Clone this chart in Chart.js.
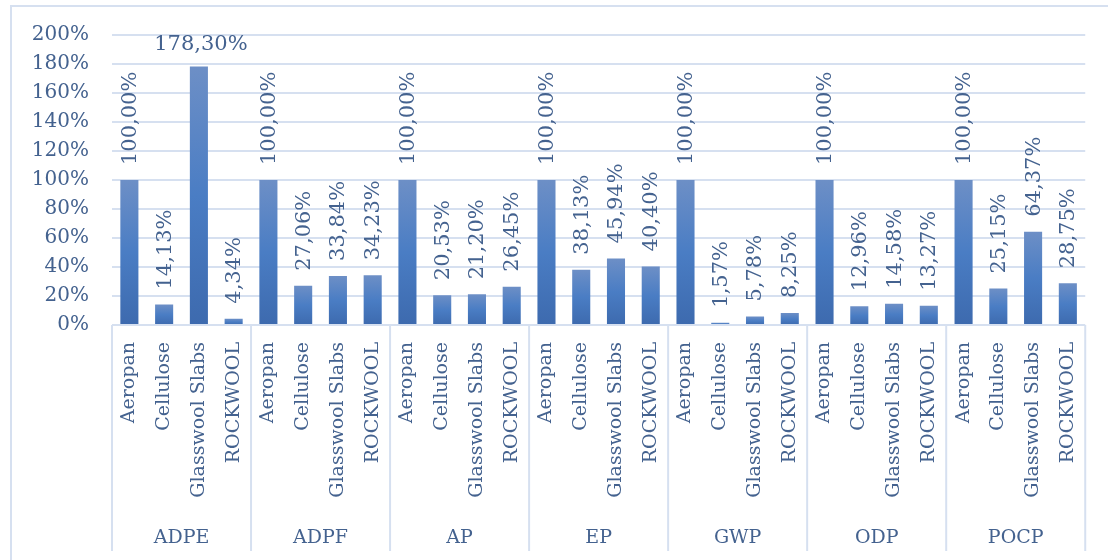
<!DOCTYPE html>
<html>
<head>
<meta charset="utf-8">
<script src="https://cdn.jsdelivr.net/npm/chart.js@4/dist/chart.umd.min.js"></script>
<style>
  html, body { margin: 0; padding: 0; background: #fff; overflow: hidden; }
  #wrap { width: 1108px; height: 560px; }
  canvas { display: block; }
</style>
</head>
<body>
<div id="wrap"><canvas id="grafico" width="1108" height="560"></canvas></div>
<script>
/* dados */
const grupos = ["ADPE", "ADPF", "AP", "EP", "GWP", "ODP", "POCP"];
const materiais = ["Aeropan", "Cellulose", "Glasswool Slabs", "ROCKWOOL"];

const adpe = [100, 14.13, 178.30, 4.34];
const adpf = [100, 27.06, 33.84, 34.23];
const ap   = [100, 20.53, 21.20, 26.45];
const ep   = [100, 38.13, 45.94, 40.40];
const gwp  = [100, 1.57, 5.78, 8.25];
const odp  = [100, 12.96, 14.58, 13.27];
const pocp = [100, 25.15, 64.37, 28.75];

const yTicks = [0, 20, 40, 60, 80, 100, 120, 140, 160, 180, 200];

const corTexto = "#44628F";
const corGrade = "#D6E0F0";
const fonte = "'DejaVu Serif', serif";

/* monta rótulos e valores planos */
const porGrupo = [adpe, adpf, ap, ep, gwp, odp, pocp];
const rotulos = [];
const valores = [];
porGrupo.forEach(vals => {
  vals.forEach((v, i) => {
    rotulos.push(materiais[i]);
    valores.push(v);
  });
});

function fmt(v) {
  return v.toFixed(2).replace(".", ",") + "%";
}

/* gradiente de cada barra */
function corBarra(ctx) {
  const chart = ctx.chart;
  if (!chart.chartArea || ctx.type !== "data") return "#4A7CC0";
  const y = chart.scales.y;
  const topo = y.getPixelForValue(ctx.raw);
  const base = y.getPixelForValue(0);
  if (!isFinite(topo) || base - topo < 1) return "#4A7CC0";
  const g = chart.ctx.createLinearGradient(0, topo, 0, base);
  g.addColorStop(0, "#6D8FC6");
  g.addColorStop(0.5, "#4A7DC4");
  g.addColorStop(1, "#3D6AAE");
  return g;
}

/* =========================
   MOLDURA, SEPARADORES E GRUPOS
========================= */
const pluginEixo = {
  id: "pluginEixo",
  beforeDraw(chart) {
    const c = chart.ctx;
    c.save();
    c.strokeStyle = corGrade;
    c.lineWidth = 2;
    c.strokeRect(11, 6, 1200, 700);
    c.restore();
  },
  afterDraw(chart) {
    const c = chart.ctx;
    const area = chart.chartArea;
    const larg = (area.right - area.left) / grupos.length;
    c.save();
    c.strokeStyle = corGrade;
    c.lineWidth = 2;
    for (let i = 0; i <= grupos.length; i++) {
      const x = area.left + i * larg;
      c.beginPath();
      c.moveTo(x, area.bottom);
      c.lineTo(x, 551);
      c.stroke();
    }
    c.fillStyle = corTexto;
    c.font = "19px " + fonte;
    c.textAlign = "center";
    c.textBaseline = "middle";
    grupos.forEach((g, i) => {
      c.fillText(g, area.left + (i + 0.5) * larg, 538);
    });
    c.restore();
  }
};

/* =========================
   RÓTULOS DE DADOS
========================= */
const pluginRotulos = {
  id: "pluginRotulos",
  afterDatasetsDraw(chart) {
    const c = chart.ctx;
    const meta = chart.getDatasetMeta(0);
    c.save();
    c.fillStyle = corTexto;
    c.font = "21px " + fonte;
    meta.data.forEach((bar, i) => {
      const v = valores[i];
      if (v > 150) {
        c.textAlign = "center";
        c.textBaseline = "middle";
        c.fillText(fmt(v), bar.x + 2, bar.y - 22);
      } else {
        c.save();
        c.translate(bar.x + 1, bar.y - 15);
        c.rotate(-Math.PI / 2);
        c.textAlign = "left";
        c.textBaseline = "middle";
        c.fillText(fmt(v), 0, 0);
        c.restore();
      }
    });
    c.restore();
  }
};

new Chart(document.getElementById("grafico"), {
  type: "bar",
  data: {
    labels: rotulos,
    datasets: [{
      data: valores,
      backgroundColor: corBarra,
      borderWidth: 0,
      categoryPercentage: 1,
      barPercentage: 0.52
    }]
  },
  options: {
    responsive: false,
    animation: false,
    devicePixelRatio: 1,
    layout: { padding: { left: 20, right: 20, top: 35, bottom: 0 } },
    plugins: {
      legend: { display: false },
      tooltip: { enabled: false }
    },
    scales: {
      x: {
        grid: { display: false, drawTicks: false },
        border: { display: false },
        ticks: {
          autoSkip: false,
          minRotation: 90,
          maxRotation: 90,
          padding: 17,
          color: corTexto,
          font: { family: fonte, size: 19 }
        },
        afterFit(scale) { scale.height = 235; }
      },
      y: {
        min: 0,
        max: 200,
        afterBuildTicks(scale) {
          scale.ticks = yTicks.map(v => ({ value: v }));
        },
        grid: { color: corGrade, lineWidth: 2, drawTicks: false },
        border: { display: false },
        ticks: {
          padding: 23,
          color: corTexto,
          font: { family: fonte, size: 20 },
          callback: v => v + "%"
        },
        afterFit(scale) { scale.width = 92; }
      }
    }
  },
  plugins: [pluginEixo, pluginRotulos]
});
</script>
</body>
</html>
